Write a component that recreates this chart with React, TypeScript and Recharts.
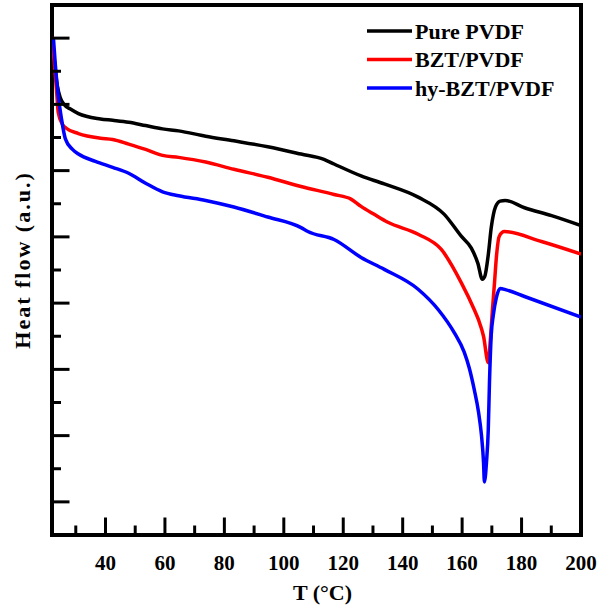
import React from 'react';
import { LineChart, Line, XAxis, YAxis, Legend, Label, ReferenceArea } from 'recharts';

const FONT = '"Liberation Serif", "Times New Roman", serif';

const seriesNames = ['Pure PVDF', 'BZT/PVDF', 'hy-BZT/PVDF'];
const seriesColors = ['#000000', '#ff0000', '#0000ff'];

const pureT = [22.1, 22.8, 23.8, 24.8, 26.2, 28.2, 30.9, 38.3, 42.4, 47.8, 53.5, 59.2, 64.6, 73.7, 83.2, 94.6, 105.8, 113.5, 116.9, 126.0, 133.8, 145.2, 154.0, 159.7, 163.1, 165.3, 166.8, 167.6, 168.8, 169.8, 171.2, 172.8, 174.5, 181.0, 190.1, 200];
const pureHF = [7.52, 7.16, 6.78, 6.6, 6.49, 6.43, 6.36, 6.28, 6.26, 6.23, 6.18, 6.13, 6.1, 6.02, 5.95, 5.86, 5.75, 5.67, 5.6, 5.42, 5.3, 5.1, 4.84, 4.51, 4.33, 4.1, 3.86, 3.9, 4.23, 4.64, 4.95, 5.04, 5.05, 4.94, 4.82, 4.67];

const bztT = [22.1, 22.8, 23.5, 24.1, 25.5, 26.8, 30.9, 38.3, 42.4, 47.8, 53.5, 59.2, 64.6, 73.7, 83.2, 94.6, 105.8, 116.9, 122.6, 126.0, 130.4, 135.0, 145.2, 153.0, 159.7, 164.1, 165.5, 167.2, 168.8, 169.5, 170.2, 170.9, 171.6, 172.5, 174.2, 186.7, 200];
const bztHF = [7.52, 7.11, 6.73, 6.38, 6.2, 6.14, 6.06, 5.99, 5.97, 5.9, 5.82, 5.73, 5.7, 5.63, 5.52, 5.4, 5.26, 5.14, 5.07, 4.96, 4.84, 4.72, 4.54, 4.31, 3.81, 3.4, 3.25, 3.0, 2.6, 2.95, 3.4, 3.81, 4.23, 4.51, 4.58, 4.43, 4.24];

const hyT = [22.5, 23.1, 24.1, 25.2, 26.5, 28.9, 30.9, 36.6, 42.4, 47.8, 53.5, 59.2, 64.6, 73.7, 83.2, 94.6, 105.8, 108.1, 116.9, 126.0, 133.8, 145.2, 152.0, 157.4, 160.7, 162.4, 164.1, 165.5, 166.5, 167.2, 167.5, 168.2, 168.8, 169.2, 169.8, 170.5, 171.5, 172.8, 174.8, 181.0, 200];
const hyHF = [7.49, 7.11, 6.63, 6.28, 5.98, 5.82, 5.75, 5.64, 5.55, 5.46, 5.31, 5.18, 5.12, 5.05, 4.95, 4.8, 4.64, 4.58, 4.46, 4.19, 4.01, 3.71, 3.4, 3.05, 2.76, 2.52, 2.19, 1.86, 1.51, 1.1, 0.8, 1.1, 1.59, 2.3, 3.02, 3.32, 3.58, 3.72, 3.7, 3.6, 3.29];

const xDomain = [22, 200];
const yDomain = [0, 8];
const xTicks = [30, 40, 50, 60, 70, 80, 90, 100, 110, 120, 130, 140, 150, 160, 170, 180, 190, 200];
const yTicks = [0.5, 1, 1.5, 2, 2.5, 3, 3.5, 4, 4.5, 5, 5.5, 6, 6.5, 7, 7.5];

const toRows = (t: number[], v: number[]) => t.map((x, i) => ({ t: x, hf: v[i] }));
const seriesData = [toRows(pureT, pureHF), toRows(bztT, bztHF), toRows(hyT, hyHF)];

function XTick(props: any) {
  const { x, y, payload } = props;
  const v = payload.value;
  const major = v % 20 === 0;
  return (
    <g>
      <line x1={x} x2={x} y1={y} y2={y - (major ? 17.5 : 9.5)} stroke="#000" strokeWidth={3} />
      {major && (
        <text x={x} y={y + 35} textAnchor="middle" fontFamily={FONT} fontWeight="bold" fontSize={21} fill="#000" stroke="none">
          {v}
        </text>
      )}
    </g>
  );
}

function YTick(props: any) {
  const { x, y, payload } = props;
  const v = payload.value;
  const major = Math.abs((v % 1) - 0.5) < 1e-6;
  return (
    <g>
      <line x1={x} x2={x + (major ? 17.5 : 9)} y1={y} y2={y} stroke="#000" strokeWidth={3} />
    </g>
  );
}

function LegendBox() {
  return (
    <svg width={597} height={110} style={{ display: 'block' }}>
      {seriesNames.map((name, i) => (
        <g key={name}>
          <line x1={367} x2={412} y1={31 + i * 28.5} y2={31 + i * 28.5} stroke={seriesColors[i]} strokeWidth={3.5} />
          <text x={415} y={38.5 + i * 28.5} fontFamily={FONT} fontWeight="bold" fontSize={22} fill="#000">
            {name}
          </text>
        </g>
      ))}
    </svg>
  );
}

export default function App() {
  return (
    <div style={{ position: 'absolute', left: 0, top: 0, width: 597, height: 610, background: '#fff' }}>
      <LineChart width={597} height={610} margin={{ top: 4, right: 15, bottom: 74, left: 51 }}>
        <XAxis
          dataKey="t"
          type="number"
          domain={xDomain}
          ticks={xTicks}
          interval={0}
          allowDataOverflow
          tick={(p: any) => <XTick {...p} />}
          tickLine={false}
          tickSize={0}
          tickMargin={0}
          height={1}
          axisLine={false}
        >
          <Label
            content={(p: any) => {
              const vb = p.viewBox;
              return (
                <text x={vb.x + vb.width / 2 + 6} y={vb.y + 65} textAnchor="middle" fontFamily={FONT} fontWeight="bold" fontSize={22} fill="#000">
                  T (°C)
                </text>
              );
            }}
          />
        </XAxis>
        <YAxis
          type="number"
          domain={yDomain}
          ticks={yTicks}
          interval={0}
          allowDataOverflow
          tick={(p: any) => <YTick {...p} />}
          tickLine={false}
          tickSize={0}
          tickMargin={0}
          width={1}
          axisLine={false}
        >
          <Label
            content={(p: any) => {
              const vb = p.viewBox;
              const cx = 30;
              const cy = vb.y + vb.height / 2 - 10;
              return (
                <text x={cx} y={cy} transform={`rotate(-90, ${cx}, ${cy})`} textAnchor="middle" fontFamily={FONT} fontWeight="bold" fontSize={22} letterSpacing={2} fill="#000">
                  Heat flow (a.u.)
                </text>
              );
            }}
          />
        </YAxis>
        <XAxis xAxisId="top" orientation="top" type="number" domain={xDomain} height={1} tick={false} tickLine={false} axisLine={false} />
        <YAxis yAxisId="right" orientation="right" type="number" domain={yDomain} width={1} tick={false} tickLine={false} axisLine={false} />
        <Legend
          verticalAlign="middle"
          wrapperStyle={{ position: 'absolute', left: 0, top: 0, width: 597, height: 110, pointerEvents: 'none' }}
          content={() => <LegendBox />}
        />
        {seriesNames.map((name, i) => (
          <Line
            key={name}
            name={name}
            data={seriesData[i]}
            dataKey="hf"
            type="monotone"
            stroke={seriesColors[i]}
            strokeWidth={3.5}
            dot={false}
            activeDot={false}
            isAnimationActive={false}
          />
        ))}
        <ReferenceArea
          x1={xDomain[0]}
          x2={xDomain[1]}
          y1={yDomain[0]}
          y2={yDomain[1]}
          fill="none"
          fillOpacity={0}
          stroke="#000"
          strokeWidth={4}
          strokeOpacity={1}
          ifOverflow="visible"
          style={{ strokeWidth: 4 }}
        />
      </LineChart>
    </div>
  );
}
